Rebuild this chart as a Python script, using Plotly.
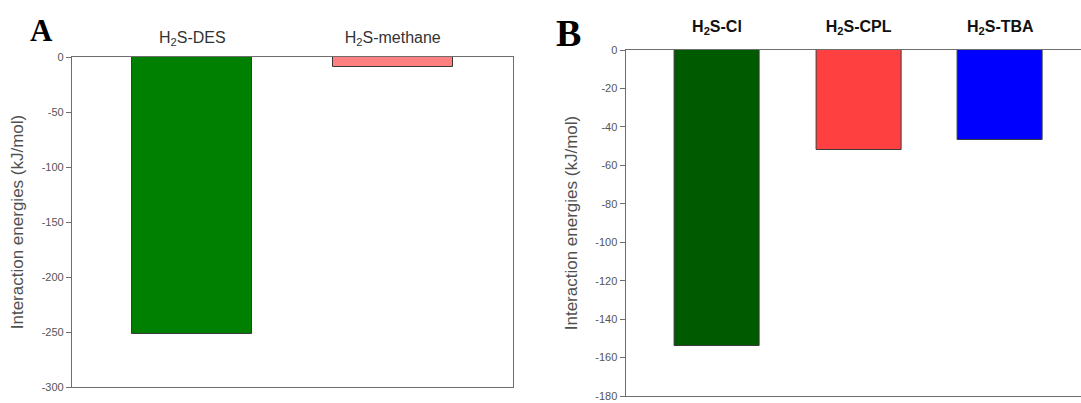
import plotly.graph_objects as go

# ---- data ----
cats_a = ["H<sub>2</sub>S-DES", "H<sub>2</sub>S-methane"]
vals_a = [-252, -9]
colors_a = ["#008000", "#FF8080"]

cats_b = ["H<sub>2</sub>S-Cl", "H<sub>2</sub>S-CPL", "H<sub>2</sub>S-TBA"]
vals_b = [-154, -52, -47]
colors_b = ["#005A00", "#FF4040", "#0000FF"]

ticks_a = [0, -50, -100, -150, -200, -250, -300]
ticklabels_a = ["0", "-50", "-100", "-150", "-200", "-250", "-300"]
ticks_b = [0, -20, -40, -60, -80, -100, -120, -140, -160, -180]
ticklabels_b = ["0", "-20", "-40", "-60", "-80", "-100", "-120", "-140", "-160", "-180"]

y_title = "Interaction energies (kJ/mol)"

W, H = 1081, 403
SANS = "Liberation Sans, Arial, sans-serif"
SERIF = "Liberation Serif, Times New Roman, serif"

fig = go.Figure()
fig.add_trace(go.Bar(x=cats_a, y=vals_a, width=0.6, xaxis="x", yaxis="y",
                     marker=dict(color=colors_a, line=dict(color="#3a3a3a", width=1)),
                     showlegend=False))
fig.add_trace(go.Bar(x=cats_b, y=vals_b, width=0.6, xaxis="x2", yaxis="y2",
                     marker=dict(color=colors_b, line=dict(color="#3a3a3a", width=1)),
                     showlegend=False))

axcol = "#6e6e6e"
common_y = dict(showgrid=False, zeroline=False, showline=True, linecolor=axcol, linewidth=1.2,
                ticks="outside", ticklen=5, tickcolor=axcol, automargin=False,
                tickfont=dict(family=SANS, size=11, color="#555555"),
                title=dict(text=y_title, standoff=13,
                           font=dict(family=SANS, size=17, color="#505050")))

fig.update_layout(
    template="none",
    width=W, height=H,
    margin=dict(l=0, r=0, t=0, b=0, autoexpand=False),
    paper_bgcolor="white", plot_bgcolor="white",
    bargap=0,
    xaxis=dict(domain=[72 / W, 513 / W], anchor="y", side="top", type="category",
               range=[-0.6, 1.6], showgrid=False, zeroline=False, automargin=False,
               showline=True, mirror=True, linecolor=axcol, linewidth=1.2, ticks="",
               ticklabelstandoff=7,
               tickfont=dict(family=SANS, size=16, color="#333333")),
    yaxis=dict(domain=[1 - 387 / H, 1 - 57 / H], anchor="x", range=[-300, 0],
               tickmode="array", tickvals=ticks_a, ticktext=ticklabels_a,
               mirror=True, **common_y),
    xaxis2=dict(domain=[625.6 / W, 1.0], anchor="y2", side="top", type="category",
                range=[-0.645, 2.57], showgrid=False, zeroline=False, automargin=False,
                showline=True, mirror=True, linecolor=axcol, linewidth=1.2, ticks="",
                ticklabelstandoff=11,
                tickfont=dict(family=SANS, size=16, color="#111111", weight="bold")),
    yaxis2=dict(domain=[1 - 396 / H, 1 - 50 / H], anchor="x2", range=[-180, 0],
                tickmode="array", tickvals=ticks_b, ticktext=ticklabels_b, **common_y),
    annotations=[
        dict(text="<b>A</b>", x=41 / W, y=1 - 31 / H, xref="paper", yref="paper",
             showarrow=False, xanchor="center", yanchor="middle",
             font=dict(family=SERIF, size=31, color="black")),
        dict(text="<b>B</b>", x=568 / W, y=1 - 33 / H, xref="paper", yref="paper",
             showarrow=False, xanchor="center", yanchor="middle",
             font=dict(family=SERIF, size=38, color="black")),
    ],
)

fig.write_html("out.html", config={"displayModeBar": False},
               post_script="document.body.style.margin='0';document.body.style.overflow='hidden';")
